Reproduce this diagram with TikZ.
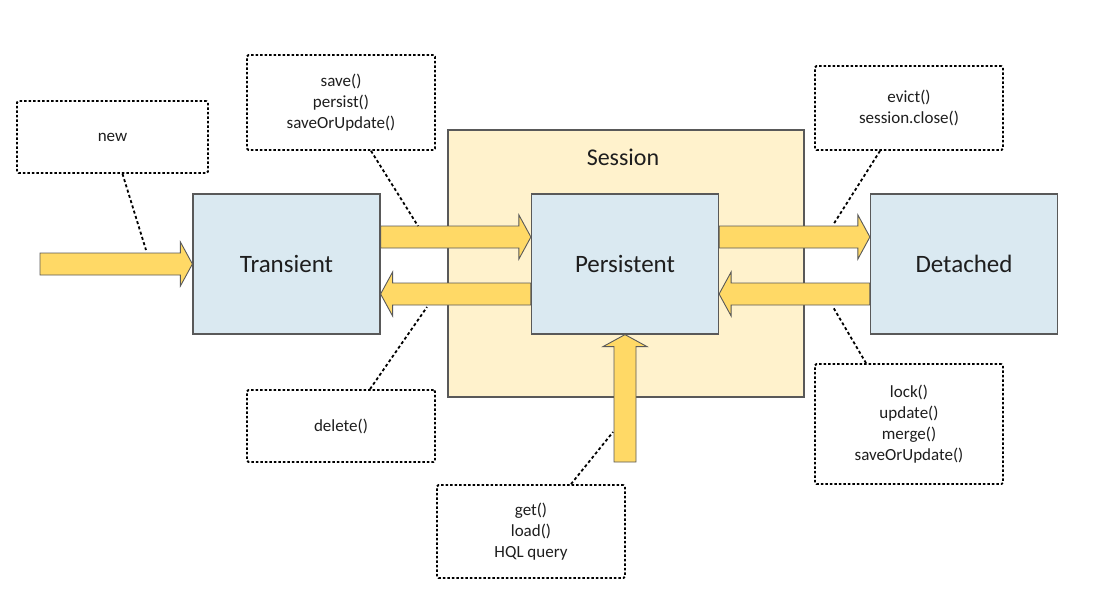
\documentclass[tikz,border=0pt]{standalone}
\usepackage{fontspec}
\setmainfont{Carlito}
\usetikzlibrary{calc}
\definecolor{boxblue}{HTML}{DAE9F1}
\definecolor{sessfill}{HTML}{FFF2CC}
\definecolor{arrowfill}{HTML}{FFD966}
\definecolor{edgegray}{HTML}{595959}
\definecolor{txt}{HTML}{1E1E1E}
\newcommand\harrow[2]{\draw[barrow] let \p1=(#1), \p2=(#2), \n1={ifthenelse(\x2>\x1,1,-1)} in
  (\x1,\y1+11pt) -- (\x2-\n1*12pt,\y1+11pt) -- (\x2-\n1*12pt,\y1+22pt) -- (\x2,\y1)
  -- (\x2-\n1*12pt,\y1-22pt) -- (\x2-\n1*12pt,\y1-11pt) -- (\x1,\y1-11pt) -- cycle;}
\begin{document}
\begin{tikzpicture}[x=1pt,y=-1pt,
  state/.style={draw=edgegray, line width=1.2pt, fill=boxblue, minimum width=187pt, minimum height=140pt, inner sep=0pt, font=\fontsize{25}{30}\selectfont, text=txt},
  note/.style={draw=black, line width=1.8pt, dash pattern=on 2.5pt off 2pt, rounded corners=1.5pt, fill=white, inner sep=0pt, align=center, font=\fontsize{17}{21}\selectfont, text=txt},
  leader/.style={draw=black, line width=1.8pt, dash pattern=on 3pt off 2.5pt},
  barrow/.style={draw=edgegray, line width=0.9pt, fill=arrowfill, line join=miter},
  session/.style={draw=edgegray, line width=1.2pt, fill=sessfill, minimum width=356pt, minimum height=267pt, inner sep=0pt},
  slabel/.style={font=\fontsize{24}{28}\selectfont, text=txt, inner sep=0pt}]
\useasboundingbox[fill=white] (0,0) rectangle (1108,603);

% session area
\node[session] (S) at (626,263.5) {};
\node[slabel] (sl) at (623,157) {Session};

% states
\node[state] (T) at (286.5,264) {Transient};
\node[state] (P) at (625,264) {Persistent};
\node[state] (D) at (964,264) {Detached};

% notes
\node[note, minimum width=191pt, minimum height=72pt] (new) at (112.5,137) {new};
\node[note, minimum width=188pt, minimum height=95pt] (save) at (341,102.5) {save()\\persist()\\saveOrUpdate()};
\node[note, minimum width=188pt, minimum height=84pt] (evict) at (909,108) {evict()\\session.close()};
\node[note, minimum width=188pt, minimum height=72pt] (delete) at (341,426) {delete()};
\node[note, minimum width=188pt, minimum height=120pt] (lock) at (909,424) {lock()\\update()\\merge()\\saveOrUpdate()};
\node[note, minimum width=188pt, minimum height=93pt] (get) at (531,531.5) {get()\\load()\\HQL query};

% block arrows
\coordinate (nstart) at (40,264);
\harrow{nstart}{T.west}
\harrow{$(T.east)+(0,-27)$}{$(P.west)+(0,-27)$}
\harrow{$(P.west)+(0,30)$}{$(T.east)+(0,30)$}
\harrow{$(P.east)+(0,-27)$}{$(D.west)+(0,-27)$}
\harrow{$(D.west)+(0,30)$}{$(P.east)+(0,30)$}
\coordinate (ustart) at (625,462);
\draw[barrow] let \p1=(ustart), \p2=(P.south) in
  (\x1-11pt,\y1) -- (\x1-11pt,\y2-12pt) -- (\x1-22pt,\y2-12pt) -- (\x1,\y2)
  -- (\x1+22pt,\y2-12pt) -- (\x1+11pt,\y2-12pt) -- (\x1+11pt,\y1) -- cycle;

% leaders
\coordinate (newend) at (146,250);
\coordinate (saveend) at (418,226);
\coordinate (delend) at (427,307);
\coordinate (evictend) at (833,225);
\coordinate (lockend) at (833,307);
\coordinate (getend) at (613,432);
\draw[leader] ($(new.south)+(10,0)$) -- (newend);
\draw[leader] ($(save.south)+(30,0)$) -- (saveend);
\draw[leader] ($(delete.north)+(29,0)$) -- (delend);
\draw[leader] ($(evict.south)+(-29,0)$) -- (evictend);
\draw[leader] ($(lock.north)+(-43,0)$) -- (lockend);
\draw[leader] ($(get.north)+(40,0)$) -- (getend);
\end{tikzpicture}
\end{document}
